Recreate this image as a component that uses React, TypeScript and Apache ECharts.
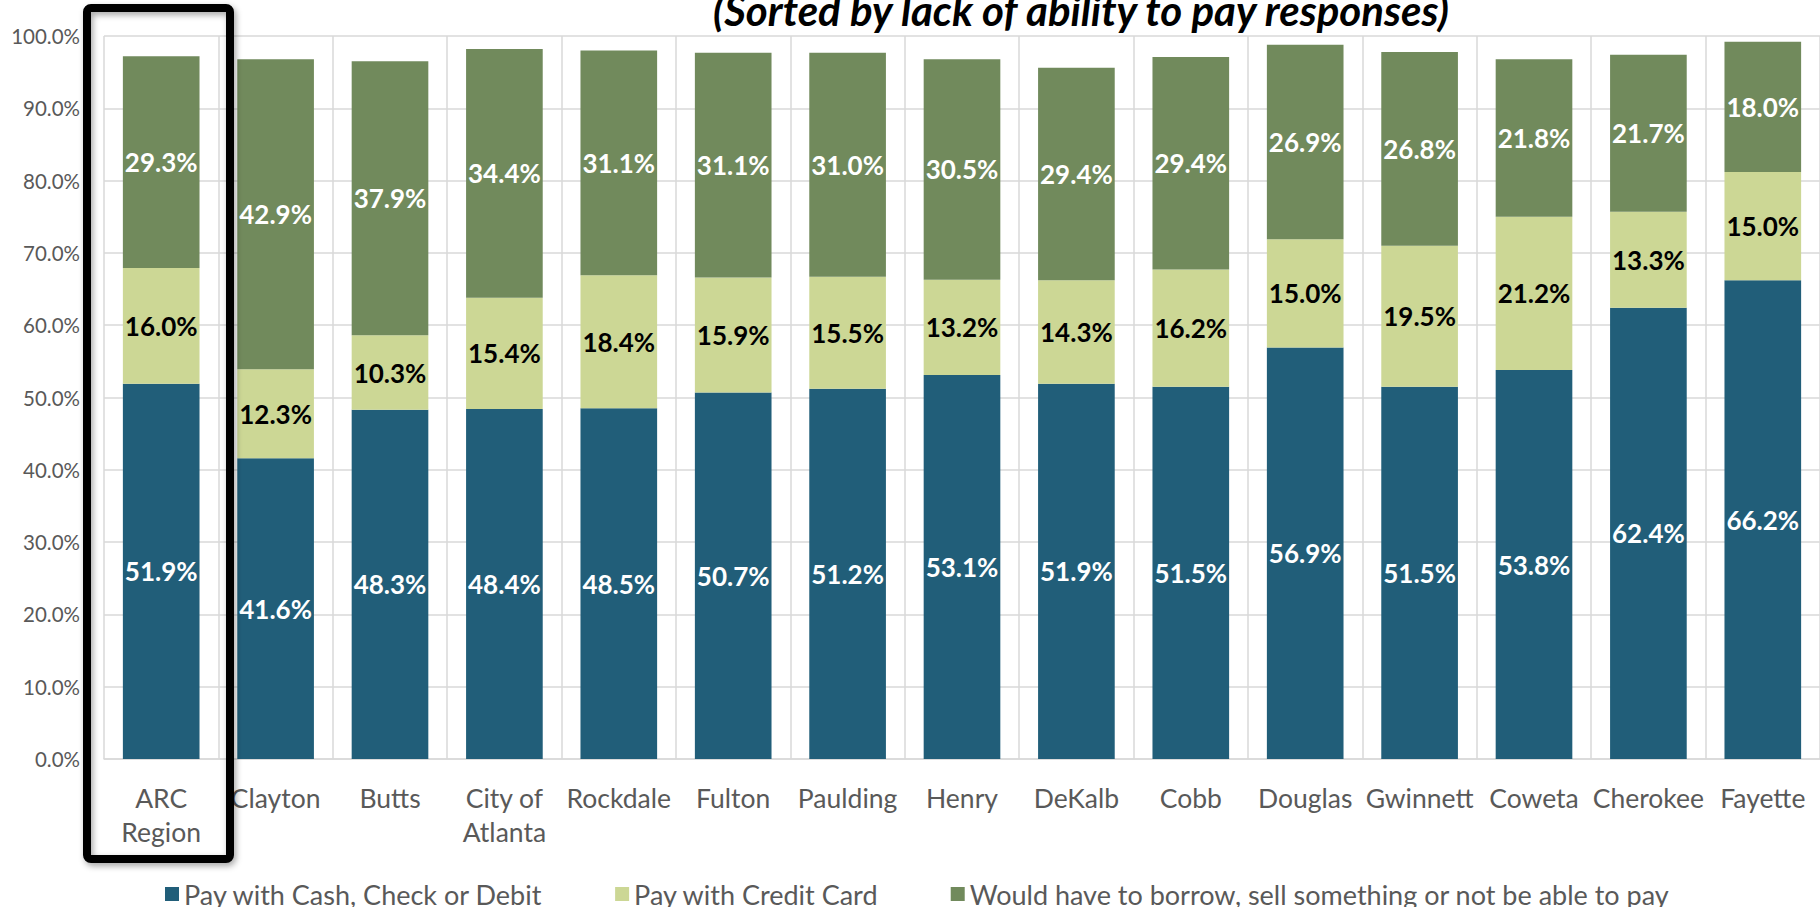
import React, { useEffect, useRef } from "react";
import * as echarts from "echarts";

const categories = [
  "ARC\nRegion", "Clayton", "Butts", "City of\nAtlanta", "Rockdale", "Fulton", "Paulding",
  "Henry", "DeKalb", "Cobb", "Douglas", "Gwinnett", "Coweta", "Cherokee", "Fayette",
];
const cashValues = [51.9, 41.6, 48.3, 48.4, 48.5, 50.7, 51.2, 53.1, 51.9, 51.5, 56.9, 51.5, 53.8, 62.4, 66.2];
const creditValues = [16.0, 12.3, 10.3, 15.4, 18.4, 15.9, 15.5, 13.2, 14.3, 16.2, 15.0, 19.5, 21.2, 13.3, 15.0];
const borrowValues = [29.3, 42.9, 37.9, 34.4, 31.1, 31.1, 31.0, 30.5, 29.4, 29.4, 26.9, 26.8, 21.8, 21.7, 18.0];
const seriesNames = [
  "Pay with Cash, Check or Debit",
  "Pay with Credit Card",
  "Would have to borrow, sell something or not be able to pay",
];
const subtitle = "(Sorted by lack of ability to pay responses)";

const FONT = "Lato, 'Noto Sans', sans-serif";

export default function App() {
  const ref = useRef<HTMLDivElement>(null);
  useEffect(() => {
    document.body.style.margin = "0";
    const chart = echarts.init(ref.current!, null, { renderer: "svg" });
    const label = (color: string) => ({
      show: true,
      position: "inside",
      color,
      fontFamily: FONT,
      fontWeight: "bold",
      fontSize: 26,
      formatter: (p: any) => p.value.toFixed(1) + "%",
    });
    chart.setOption({
      animation: false,
      textStyle: { fontFamily: FONT },
      grid: { left: 104, right: -3, top: 36, bottom: 148, containLabel: false },
      xAxis: {
        type: "category",
        data: categories,
        axisLine: { show: true, lineStyle: { color: "#D9D9D9", width: 1.5 } },
        axisTick: { show: false },
        splitLine: { show: true, lineStyle: { color: "#D9D9D9", width: 1.5 } },
        axisLabel: {
          color: "#595959",
          fontFamily: FONT,
          fontSize: 26.5,
          lineHeight: 34,
          margin: 22,
          interval: 0,
        },
      },
      yAxis: {
        type: "value",
        min: 0,
        max: 100,
        interval: 10,
        axisLine: { show: false },
        axisTick: { show: false },
        splitLine: { show: true, lineStyle: { color: "#D9D9D9", width: 1.5 } },
        axisLabel: {
          color: "#595959",
          fontFamily: FONT,
          fontSize: 20.5,
          margin: 24,
          formatter: (v: number) => v.toFixed(1) + "%",
        },
      },
      legend: {
        left: 160,
        top: 874,
        itemWidth: 14,
        itemHeight: 14,
        itemGap: 72,
        icon: "rect",
        textStyle: { color: "#595959", fontFamily: FONT, fontSize: 27, lineHeight: 30 },
        data: seriesNames,
      },
      series: [
        {
          name: seriesNames[0],
          type: "bar",
          stack: "total",
          barCategoryGap: "33%",
          data: cashValues,
          itemStyle: { color: "#215E79" },
          label: label("#FFFFFF"),
        },
        {
          name: seriesNames[1],
          type: "bar",
          stack: "total",
          data: creditValues,
          itemStyle: { color: "#CCD795" },
          label: label("#000000"),
        },
        {
          name: seriesNames[2],
          type: "bar",
          stack: "total",
          data: borrowValues,
          itemStyle: { color: "#718A5C" },
          label: label("#FFFFFF"),
        },
      ],
      graphic: [
        {
          type: "text",
          x: 1081,
          y: 31,
          style: {
            text: subtitle,
            fontFamily: FONT,
            fontSize: 42,
            fontWeight: "bold",
            fontStyle: "italic",
            fill: "#000",
            textAlign: "center",
            textVerticalAlign: "bottom",
          },
        },
        {
          type: "rect",
          shape: { x: 87, y: 8, width: 143, height: 851, r: 4 },
          style: {
            fill: "none",
            stroke: "#000",
            lineWidth: 8,
            shadowBlur: 6,
            shadowOffsetX: 2,
            shadowOffsetY: 3,
            shadowColor: "rgba(0,0,0,0.35)",
          },
          z: 100,
        },
      ],
    });
    return () => chart.dispose();
  }, []);
  return <div ref={ref} style={{ width: 1820, height: 907 }} />;
}
